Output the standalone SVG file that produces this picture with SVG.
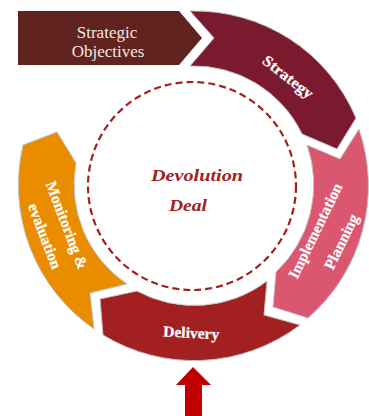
<svg xmlns="http://www.w3.org/2000/svg" width="369" height="416" viewBox="0 0 369 416">
<style>
.seg{stroke:#c4c4c4;stroke-width:1}
text{font-family:"Liberation Serif","DejaVu Serif",serif;text-anchor:middle}
.w{fill:#fff;font-weight:bold;font-size:15.5px;stroke:#fff;stroke-width:.2}
.c{fill:#a32020;font-weight:bold;font-style:italic;font-size:16.5px}
</style>
<rect width="369" height="416" fill="#fff"/>
<g id="objectives"><path d="M18 11H179L202 38L179 65H18Z" fill="#612320"/>
<text x="107" y="38" fill="#f2e9e6" font-size="17">Strategic</text><text x="108" y="56.500" fill="#f2e9e6" font-size="17">Objectives</text></g>
<g id="strategy"><path class="seg" d="M190 11A175 175 0 0 1 356 118L337 149L302 134A120 120 0 0 0 190 66L214 38Z" fill="#7b1a2e"/>
<text class="w" transform="translate(285 81) rotate(38)" textLength="60" lengthAdjust="spacingAndGlyphs">Strategy</text></g>
<g id="implementation"><path class="seg" d="M359 129A175 175 0 0 1 308 318L273 307L276 272A120 120 0 0 0 307 145L340 159Z" fill="#db566f"/>
<text class="w" transform="translate(320 233) rotate(-64)" textLength="104" lengthAdjust="spacingAndGlyphs">Implementation</text><text class="w" transform="translate(346 244) rotate(-64)">Planning</text></g>
<g id="delivery"><path class="seg" d="M100 299L137 291A120 120 0 0 0 267 281L264 315L300 325A175 175 0 0 1 103 335Z" fill="#a22020"/>
<text class="w" transform="translate(191 338) rotate(3)">Delivery</text></g>
<g id="monitoring"><path class="seg" d="M23 145L57 132L76 163A120 120 0 0 0 127 284L90 293L94 329A175 175 0 0 1 23 145Z" fill="#ea8c00"/>
<text class="w" transform="translate(62 227) rotate(69)">Monitoring &amp;</text><text class="w" transform="translate(40 238) rotate(69)">evaluation</text></g>
<g id="deal"><circle cx="192" cy="186" r="104" fill="none" stroke="#a32020" stroke-width="2.2" stroke-dasharray="7 4"/>
<text class="c" x="197" y="181" textLength="92" lengthAdjust="spacingAndGlyphs">Devolution</text><text class="c" x="188" y="211" textLength="38" lengthAdjust="spacingAndGlyphs">Deal</text></g>
<g id="connectors"><path d="M193 367L211 385H202V416H185V385H176Z" fill="#c00000"/></g>
</svg>
